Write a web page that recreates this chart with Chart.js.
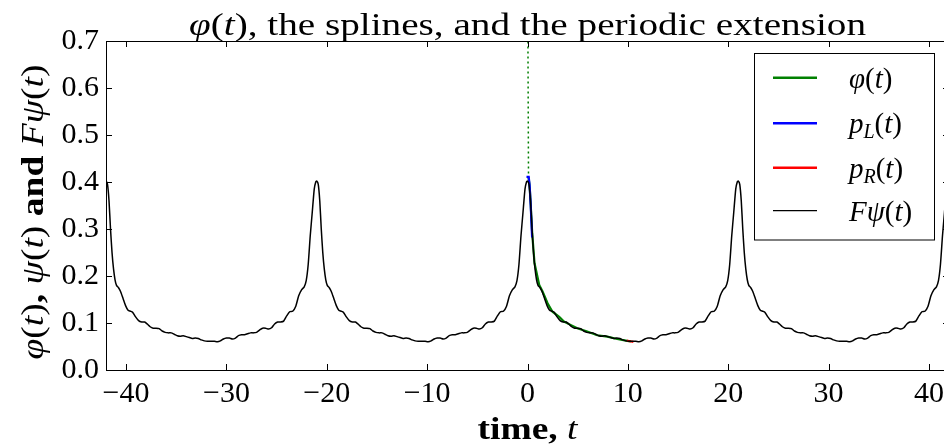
<!DOCTYPE html>
<html><head><meta charset="utf-8">
<script src="https://cdn.jsdelivr.net/npm/chart.js@4.4.1/dist/chart.umd.min.js"></script>
<style>html,body{margin:0;padding:0;background:#fff;overflow:hidden;width:944px;height:447px}canvas{display:block}</style>
</head><body><canvas id="c" width="960" height="447"></canvas>
<script>
// ---- data ----
const xTicks = [-40,-30,-20,-10,0,10,20,30,40];
const yTicks = [0.0,0.1,0.2,0.3,0.4,0.5,0.6,0.7];
// one period of F psi(t), centred on a peak
const psiT = [-10.5,-10.2,-9.9,-9.6,-9.3,-9.0,-8.7,-8.4,-8.1,-7.8,-7.5,-7.2,-6.9,-6.6,-6.3,-6.0,-5.7,-5.4,-5.1,-4.8,-4.5,-4.2,-3.9,-3.6,-3.3,-3.0,-2.7,-2.4,-2.1,-1.8,-1.5,-1.25,-1.05,-0.85,-0.65,-0.45,-0.25,-0.1,0,
  0.15,0.30,0.45,0.60,0.75,0.90,1.05,1.25,1.45,1.70,1.95,2.20,2.45,2.65,2.95,3.25,3.55,3.85,4.10,4.40,4.70,5.00,5.30,5.60,5.90,6.20,6.50,6.80,7.10,7.40,7.70,8.00,8.30,8.60,8.90,9.20,9.50,9.80,10.10,10.5];
const psiV = [0.061,0.061,0.060,0.062,0.066,0.068,0.068,0.066,0.068,0.073,0.075,0.075,0.077,0.079,0.079,0.080,0.085,0.089,0.089,0.087,0.090,0.098,0.102,0.102,0.104,0.115,0.124,0.125,0.135,0.158,0.171,0.177,0.190,0.225,0.285,0.335,0.385,0.400,0.402,
  0.395,0.360,0.300,0.250,0.215,0.192,0.180,0.175,0.167,0.152,0.137,0.127,0.125,0.123,0.113,0.105,0.102,0.102,0.098,0.092,0.089,0.089,0.088,0.083,0.080,0.079,0.079,0.076,0.073,0.072,0.073,0.071,0.069,0.067,0.068,0.067,0.064,0.062,0.061,0.061];
const periodCenters = [-42,-21,0,21,42];
// phi(t)
const phiT = [0.04,0.10,0.20,0.30,0.47,0.70,1.17,1.50,2.00,2.49,3.16,3.63,4.29,4.96,5.95,6.95,7.95,8.94,9.94,10.30];
const phiV = [0.72,0.41,0.395,0.36,0.29,0.227,0.181,0.167,0.142,0.124,0.113,0.103,0.096,0.089,0.082,0.074,0.071,0.066,0.062,0.061];
// p_L(t)
const pLT = [-0.10,0.12,0.22,0.32,0.40,0.46];
const pLV = [0.411,0.411,0.390,0.350,0.310,0.282];
// p_R(t)
const pRT = [9.90,10.20,10.55];
const pRV = [0.0625,0.0612,0.0600];

// ---- build points ----
const pts = (T,V) => T.map((t,i)=>({x:t,y:V[i]}));
const psiPts = [];
periodCenters.forEach(c => psiT.forEach((t,i)=>psiPts.push({x:c+t,y:psiV[i]})));

const SERIF = '"Liberation Serif", "Times New Roman", serif';
const F = (style,size) => style+' '+size+'px '+SERIF;

function segWidth(ctx,segs){let w=0;for(const s of segs){ctx.font=s.f;w+=ctx.measureText(s.t).width;}return w;}
function drawRich(ctx,segs,x,y,opt){
  opt=opt||{};
  const w=segWidth(ctx,segs);
  const sx=opt.width? opt.width/w : 1;
  ctx.save();
  ctx.translate(x,y);
  if(opt.angle) ctx.rotate(opt.angle);
  ctx.scale(sx,1);
  let cx = opt.left ? 0 : -w/2;
  ctx.fillStyle='#000';ctx.textAlign='left';ctx.textBaseline='alphabetic';
  for(const s of segs){ctx.font=s.f;ctx.fillText(s.t,cx,s.dy||0);cx+=ctx.measureText(s.t).width;}
  ctx.restore();
}

const decor = {
  id:'decor',
  afterDraw(chart){
    const ctx=chart.ctx, a=chart.chartArea, xs=chart.scales.x, ys=chart.scales.y;
    ctx.save();
    ctx.strokeStyle='#000';ctx.lineWidth=1;
    ctx.strokeRect(Math.round(a.left)+0.5,Math.round(a.top)+0.5,Math.round(a.right-a.left),Math.round(a.bottom-a.top));
    const TL=6;
    ctx.beginPath();
    xTicks.forEach(v=>{const px=Math.round(xs.getPixelForValue(v))+0.5;
      ctx.moveTo(px,a.bottom);ctx.lineTo(px,a.bottom-TL);
      ctx.moveTo(px,a.top);ctx.lineTo(px,a.top+TL);});
    yTicks.forEach(v=>{const py=Math.round(ys.getPixelForValue(v))+0.5;
      ctx.moveTo(a.left,py);ctx.lineTo(a.left+TL,py);
      ctx.moveTo(a.right,py);ctx.lineTo(a.right-TL,py);});
    ctx.stroke();
    ctx.restore();

    const it32=F('italic',32), n32=F('normal',32);
    drawRich(ctx,[{t:'φ',f:it32},{t:'(',f:n32},{t:'t',f:it32},{t:')',f:n32},{t:', the splines, and the periodic extension',f:n32}],
      (a.left+a.right)/2,35,{width:677});
    const b31=F('bold',31), it31=F('italic',31);
    drawRich(ctx,[{t:'time, ',f:b31},{t:'t',f:it31}],(a.left+a.right)/2,439,{width:100});
    const b32=F('bold',32), itY=F('italic',32), nY=F('normal',32);
    drawRich(ctx,[{t:'φ',f:itY},{t:'(',f:nY},{t:'t',f:itY},{t:')',f:nY},{t:', ',f:b32},
      {t:'ψ',f:itY},{t:'(',f:nY},{t:'t',f:itY},{t:')',f:nY},{t:' and ',f:b32},
      {t:'F',f:itY},{t:'ψ',f:itY},{t:'(',f:nY},{t:'t',f:itY},{t:')',f:nY}],
      43,212,{angle:-Math.PI/2,width:295});

    // legend
    ctx.save();
    ctx.fillStyle='#fff';ctx.fillRect(754,53.5,180,186.5);
    ctx.strokeStyle='#000';ctx.lineWidth=1;ctx.strokeRect(754.5,53.5,180,186.5);
    const it29=F('italic',29), n29=F('normal',29), sub=F('italic',20);
    const rows=[
      {c:'#008000',w:2.5,y:77.7,segs:[{t:'φ',f:it29},{t:'(',f:n29},{t:'t',f:it29},{t:')',f:n29}]},
      {c:'#0000ff',w:2.5,y:123.3,segs:[{t:'p',f:it29},{t:'L',f:sub,dy:5},{t:'(',f:n29},{t:'t',f:it29},{t:')',f:n29}]},
      {c:'#ff0000',w:2.5,y:167.7,segs:[{t:'p',f:it29},{t:'R',f:sub,dy:5},{t:'(',f:n29},{t:'t',f:it29},{t:')',f:n29}]},
      {c:'#000000',w:1.3,y:210.7,segs:[{t:'F',f:it29},{t:'ψ',f:it29},{t:'(',f:n29},{t:'t',f:it29},{t:')',f:n29}]}
    ];
    rows.forEach(r=>{
      ctx.strokeStyle=r.c;ctx.lineWidth=r.w;ctx.beginPath();ctx.moveTo(773,r.y);ctx.lineTo(817,r.y);ctx.stroke();
      drawRich(ctx,r.segs,849,r.y+10,{left:true});
    });
    ctx.restore();
  }
};

new Chart(document.getElementById('c'),{
  type:'line',
  data:{datasets:[
    {label:'Fψ(t)',data:psiPts,borderColor:'#000',borderWidth:1.5,pointRadius:0,tension:0.2,order:0},
    {label:'p_R(t)',data:pts(pRT,pRV),borderColor:'#ff0000',borderWidth:2.2,pointRadius:0,tension:0,order:1},
    {label:'p_L(t)',data:pts(pLT,pLV),borderColor:'#0000ff',borderWidth:2.2,pointRadius:0,tension:0,order:2},
    {label:'φ(t)',data:pts(phiT,phiV),borderColor:'#008000',borderWidth:2.2,pointRadius:0,tension:0,order:3,
      segment:{borderDash:ctx=>ctx.p0DataIndex===0?[2,3]:undefined,borderWidth:ctx=>ctx.p0DataIndex===0?1.5:2.2}}
  ]},
  options:{
    responsive:false,animation:false,devicePixelRatio:1,
    layout:{padding:{left:0,top:41,right:11,bottom:0}},
    plugins:{legend:{display:false},title:{display:false},tooltip:{enabled:false}},
    scales:{
      x:{type:'linear',min:-42,max:42,
        afterFit:s=>{s.height=77;},
        afterBuildTicks:s=>{s.ticks=xTicks.map(v=>({value:v}));},
        grid:{display:false,drawTicks:false},border:{display:false},
        ticks:{color:'#000',font:{family:SERIF,size:30},padding:6,maxRotation:0,autoSkip:false,
          callback:v=>v<0?'\u2212'+Math.abs(v):String(v)}},
      y:{type:'linear',min:0,max:0.7,
        afterFit:s=>{s.width=106;},
        afterBuildTicks:s=>{s.ticks=yTicks.map(v=>({value:v}));},
        grid:{display:false,drawTicks:false},border:{display:false},
        ticks:{color:'#000',font:{family:SERIF,size:30},padding:7,autoSkip:false,
          callback:v=>v.toFixed(1)}}
    }
  },
  plugins:[decor]
});
</script></body></html>
